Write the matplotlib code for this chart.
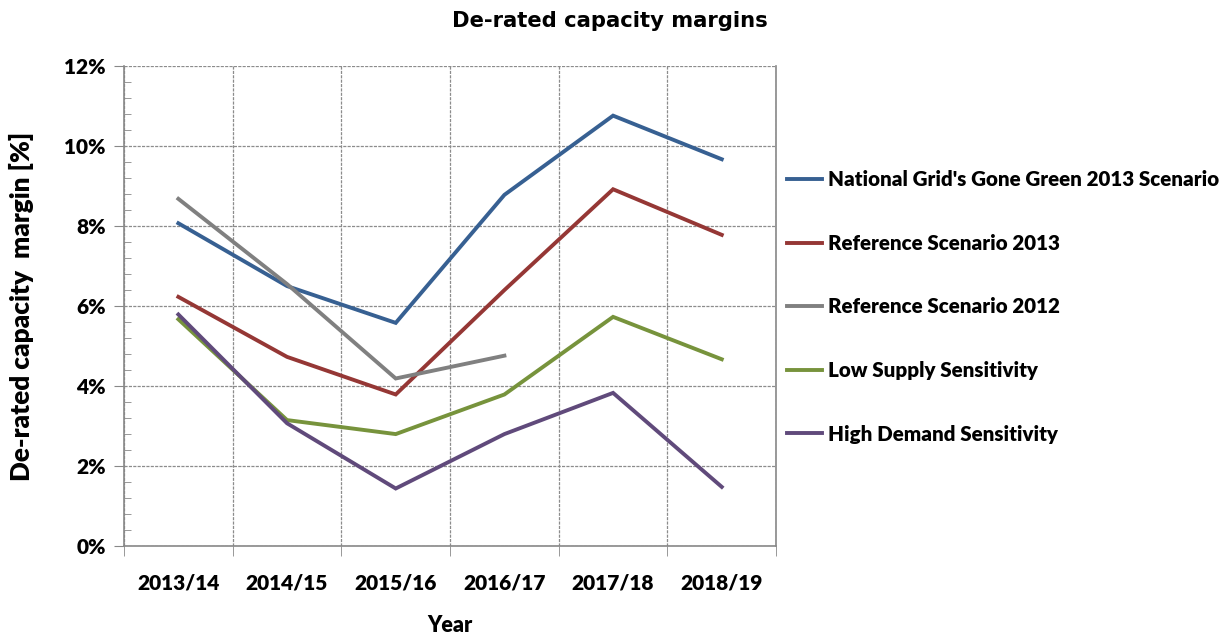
import numpy as np
import matplotlib.pyplot as plt
from matplotlib.ticker import MultipleLocator, FuncFormatter

years = ['2013/14', '2014/15', '2015/16', '2016/17', '2017/18', '2018/19']
gone_green = [8.07, 6.5, 5.58, 8.78, 10.76, 9.67]
ref_2013 = [6.23, 4.73, 3.79, 6.4, 8.92, 7.78]
ref_2012 = [8.68, 6.55, 4.19, 4.76]
low_supply = [5.67, 3.15, 2.8, 3.79, 5.73, 4.67]
high_demand = [5.79, 3.07, 1.44, 2.8, 3.83, 1.48]

labels = ["National Grid's Gone Green 2013 Scenario", 'Reference Scenario 2013',
          'Reference Scenario 2012', 'Low Supply Sensitivity', 'High Demand Sensitivity']
colors = ['#376092', '#953735', '#808080', '#77933C', '#604A7B']

fnt = 'Lato'
fig = plt.figure(figsize=(12.28, 6.35), dpi=100)
ax = fig.add_axes([0.101, 0.140, 0.531, 0.756])

x = np.arange(len(years))
series = [gone_green, ref_2013, ref_2012, low_supply, high_demand]
for s, lab, c in zip(series, labels, colors):
    ax.plot(x[:len(s)], s, color=c, lw=2.8, label=lab, solid_joinstyle='miter')

ax.set_xlim(-0.5, len(years) - 0.5)
ax.set_ylim(0, 12)
ax.yaxis.set_major_locator(MultipleLocator(2))
ax.yaxis.set_minor_locator(MultipleLocator(0.4))
ax.yaxis.set_major_formatter(FuncFormatter(lambda v, p: '%d%%' % round(v)))
ax.set_xticks(x)
ax.set_xticklabels(years)
ax.set_xticks(np.arange(-0.5, len(years)), minor=True)

ax.grid(True, which='major', axis='y', color='#8c8c8c', ls=(0, (2.5, 1)), lw=0.9)
ax.grid(True, which='minor', axis='x', color='#8c8c8c', ls=(0, (2.5, 1)), lw=0.9)
ax.tick_params(axis='x', which='major', length=0, pad=20)
ax.tick_params(axis='x', which='minor', length=7, direction='out', color='#888888')
ax.tick_params(axis='y', which='major', length=7, direction='out', color='#888888', pad=6)
ax.tick_params(axis='y', which='minor', length=5, direction='in', color='#888888')
for t in ax.get_xticklabels() + ax.get_yticklabels():
    t.set_fontfamily(fnt)
    t.set_fontweight('heavy')
    t.set_fontsize(15)

for side in ['left', 'bottom', 'right']:
    ax.spines[side].set_color('#888888')
    ax.spines[side].set_linewidth(1.2)
ax.spines['top'].set_visible(False)

ax.set_xlabel('Year', fontfamily=fnt, fontweight='heavy', fontsize=15.5, labelpad=16)
ax.set_ylabel('De-rated capacity  margin [%]', fontfamily=fnt, fontweight='heavy', fontsize=18.8, labelpad=22)

fig.text(0.497, 0.967, 'De-rated capacity margins', ha='center', va='center',
         fontfamily='DejaVu Sans', fontweight='bold', fontsize=15.2)

fig.legend(loc='upper left', bbox_to_anchor=(0.634, 0.745), frameon=False,
           prop={'family': fnt, 'weight': 'heavy', 'size': 14.8},
           handlelength=1.7, handletextpad=0.3, labelspacing=2.17, borderaxespad=0)

fig.savefig('out.png', dpi=100)
